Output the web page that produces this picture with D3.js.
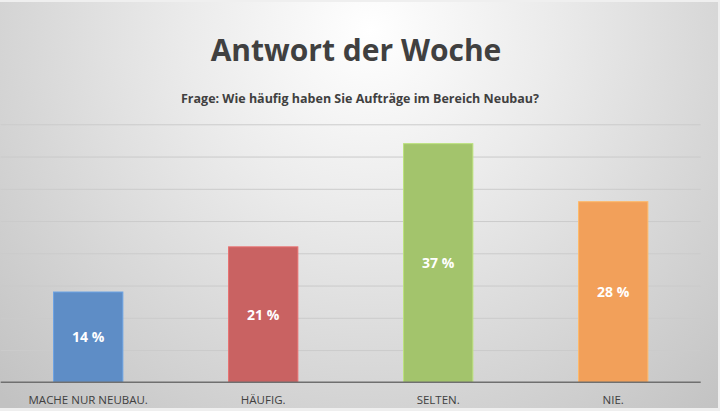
<!DOCTYPE html>
<html>
<head>
<meta charset="utf-8">
<script src="https://cdn.jsdelivr.net/npm/d3@7"></script>
<style>
  html, body { margin: 0; padding: 0; background: #efefef; }
  svg { display: block; }
  .grid line { stroke: #cbcbcb; stroke-width: 1; }
  .grid path { display: none; }
  .xaxis path, .xaxis line { display: none; }
  .xaxis text { font-family: "Open Sans", sans-serif; font-size: 11.5px; fill: #404040; }
</style>
</head>
<body>
<svg id="chart"></svg>
<script>
// chart values
var categories = ['MACHE NUR NEUBAU.', 'HÄUFIG.', 'SELTEN.', 'NIE.'];
var values = [14, 21, 37, 28];
var labels = ['14 %', '21 %', '37 %', '28 %'];
var colors = ['#5e8dc6', '#c96262', '#a3c46c', '#f2a05a'];
var yTicks = [0, 5, 10, 15, 20, 25, 30, 35, 40];

(function () {
    var width = 720, height = 411;
    var plot = { left: 0.7, right: 700.7, top: 124.3, bottom: 382.3 };

    var svg = d3.select('#chart')
        .attr('width', width)
        .attr('height', height);

    // soft radial background like the office chart style
    var defs = svg.append('defs');
    var grad = defs.append('radialGradient')
        .attr('id', 'bg')
        .attr('gradientUnits', 'userSpaceOnUse')
        .attr('cx', 370).attr('cy', 30).attr('r', 520);
    grad.append('stop').attr('offset', '0').attr('stop-color', '#ffffff');
    grad.append('stop').attr('offset', '0.35').attr('stop-color', '#ebebeb');
    grad.append('stop').attr('offset', '1').attr('stop-color', '#c2c2c2');

    svg.append('rect')
        .attr('x', 0).attr('y', 2)
        .attr('width', 718).attr('height', 406)
        .attr('fill', 'url(#bg)');

    var x = d3.scaleBand()
        .domain(categories)
        .range([plot.left, plot.right])
        .paddingInner(0.604)
        .paddingOuter(0.302);

    var y = d3.scaleLinear()
        .domain([0, 40])
        .range([plot.bottom, plot.top]);

    // horizontal gridlines
    svg.append('g')
        .attr('class', 'grid')
        .attr('transform', 'translate(' + plot.left + ',0)')
        .call(d3.axisLeft(y).tickValues(yTicks.slice(1)).tickSize(-(plot.right - plot.left)).tickFormat(''));

    // bars
    svg.selectAll('.bar')
        .data(values)
        .enter().append('rect')
            .attr('class', 'bar')
            .attr('x', function (d, i) { return x(categories[i]); })
            .attr('y', function (d) { return y(d); })
            .attr('width', x.bandwidth())
            .attr('height', function (d) { return y(0) - y(d); })
            .attr('fill', function (d, i) { return colors[i]; })
            .attr('stroke', function (d, i) { return d3.color(colors[i]).brighter(0.4); })
            .attr('stroke-width', 1);

    // baseline
    svg.append('line')
        .attr('x1', plot.left).attr('x2', plot.right)
        .attr('y1', y(0)).attr('y2', y(0))
        .attr('stroke', '#6f6f6f')
        .attr('stroke-width', 1.5);

    // value labels centred in each bar
    svg.selectAll('.val')
        .data(values)
        .enter().append('text')
            .attr('class', 'val')
            .attr('x', function (d, i) { return x(categories[i]) + x.bandwidth() / 2; })
            .attr('y', function (d) { return (y(d) + y(0)) / 2; })
            .attr('dy', '0.36em')
            .attr('text-anchor', 'middle')
            .style('font-family', '"Open Sans", sans-serif')
            .style('font-weight', 'bold')
            .style('font-size', '14px')
            .style('fill', '#ffffff')
            .text(function (d, i) { return labels[i]; });

    // category axis
    svg.append('g')
        .attr('class', 'xaxis')
        .attr('transform', 'translate(0,' + plot.bottom + ')')
        .call(d3.axisBottom(x).tickSize(0).tickPadding(13.5));

    // title and question
    svg.append('text')
        .attr('x', 356).attr('y', 60.7)
        .attr('text-anchor', 'middle')
        .style('font-family', '"Open Sans", sans-serif')
        .style('font-weight', 'bold')
        .style('font-size', '30px')
        .style('fill', '#404040')
        .text('Antwort der Woche');

    svg.append('text')
        .attr('x', 360).attr('y', 102.5)
        .attr('text-anchor', 'middle')
        .style('font-family', '"Open Sans", sans-serif')
        .style('font-weight', 'bold')
        .style('font-size', '12.5px')
        .style('fill', '#404040')
        .text('Frage: Wie häufig haben Sie Aufträge im Bereich Neubau?');
}());
</script>
</body>
</html>
